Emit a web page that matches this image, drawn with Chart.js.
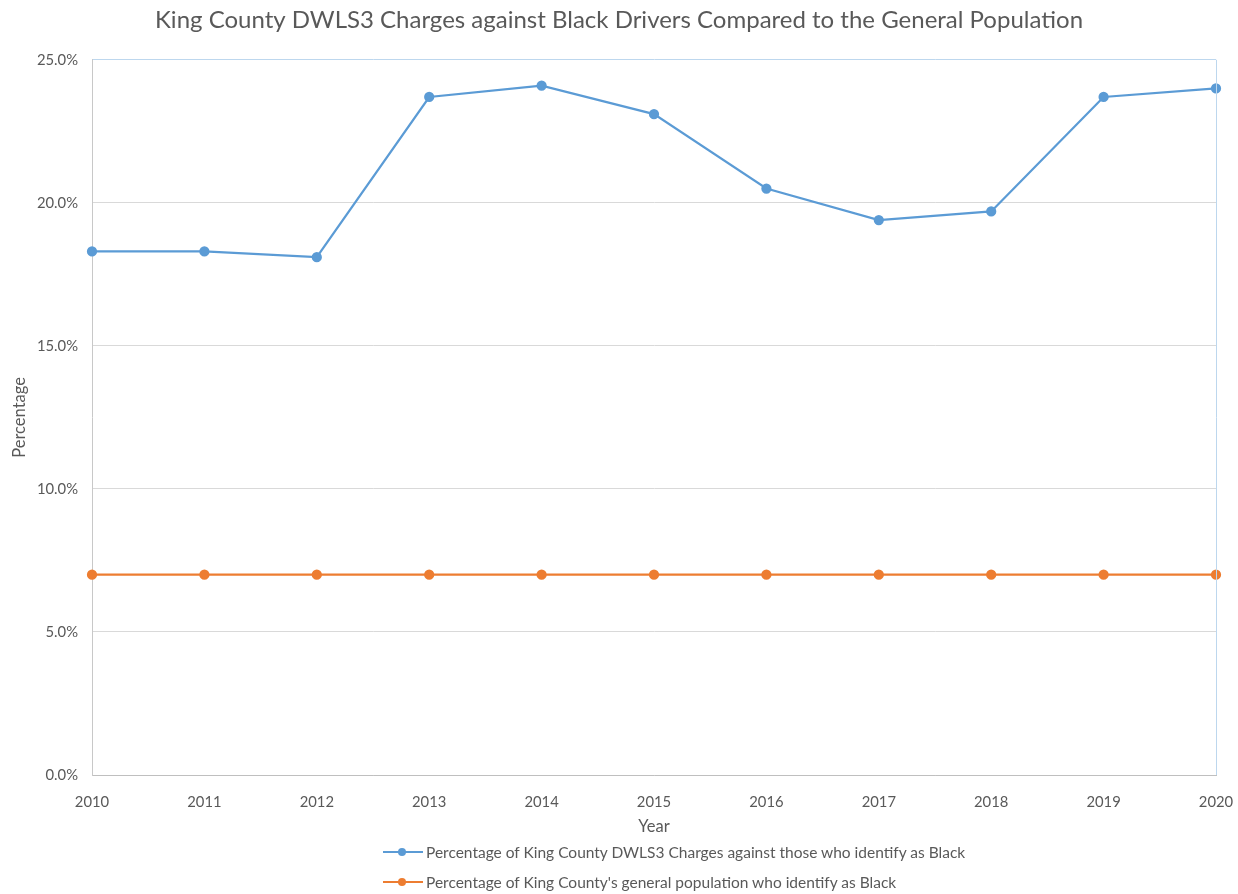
<!DOCTYPE html>
<html>
<head>
<meta charset="utf-8">
<script src="https://cdn.jsdelivr.net/npm/chart.js@4/dist/chart.umd.min.js"></script>
<style>
  html, body { margin: 0; padding: 0; background: #fff; }
  #wrap { position: relative; width: 1238px; height: 894px; }
  #legend { position: absolute; left: 383px; top: 840px; font-family: Lato, "Open Sans", sans-serif; font-size: 15.5px; color: #595959; }
  .item { position: relative; height: 30px; line-height: 24px; padding-left: 43px; white-space: nowrap; }
  .item .ln { position: absolute; left: 0; top: 11px; width: 40px; height: 2px; }
  .item .dt { position: absolute; left: 15px; top: 8px; width: 8px; height: 8px; border-radius: 50%; }
</style>
</head>
<body>
<div id="wrap">
  <canvas id="c" width="1238" height="894"></canvas>
  <div id="legend"></div>
</div>
<script>
const years = ["2010","2011","2012","2013","2014","2015","2016","2017","2018","2019","2020"];
const chargesBlack = [18.3, 18.3, 18.1, 23.7, 24.1, 23.1, 20.5, 19.4, 19.7, 23.7, 24.0];
const populationBlack = [7.0, 7.0, 7.0, 7.0, 7.0, 7.0, 7.0, 7.0, 7.0, 7.0, 7.0];
const seriesNames = [
  "Percentage of King County DWLS3 Charges against those who identify as Black",
  "Percentage of King County's general population who identify as Black"
];
const seriesColors = ["#5b9bd5", "#ed7d31"];
const titleText = "King County DWLS3 Charges against Black Drivers Compared to the General Population";

const FONT = "Lato, 'Open Sans', sans-serif";
const TXT = "#595959";

const frame = {
  id: 'frame',
  afterDraw(chart) {
    const {ctx, chartArea: a} = chart;
    ctx.save();
    ctx.strokeStyle = '#bdd7ee';
    ctx.lineWidth = 1;
    ctx.beginPath();
    ctx.moveTo(a.right + 0.5, a.top);
    ctx.lineTo(a.right + 0.5, a.bottom);
    ctx.stroke();
    ctx.restore();
  }
};

new Chart(document.getElementById('c'), {
  type: 'line',
  data: {
    labels: years,
    datasets: [
      { label: seriesNames[0], data: chargesBlack, borderColor: seriesColors[0], backgroundColor: seriesColors[0],
        borderWidth: 2.25, pointRadius: 4, pointHoverRadius: 4, tension: 0 },
      { label: seriesNames[1], data: populationBlack, borderColor: seriesColors[1], backgroundColor: seriesColors[1],
        borderWidth: 2.25, pointRadius: 4, pointHoverRadius: 4, tension: 0 }
    ]
  },
  options: {
    responsive: false,
    animation: false,
    layout: { padding: { left: 0, right: 0, top: 0, bottom: 59 } },
    plugins: {
      legend: { display: false },
      tooltip: { enabled: false },
      title: { display: true, text: titleText, color: TXT,
        font: { family: FONT, size: 24, weight: 'normal' }, padding: { top: 6, bottom: 25 } }
    },
    scales: {
      x: {
        offset: false,
        grid: { display: false },
        border: { display: true, color: '#bfbfbf', width: 1 },
        ticks: { color: TXT, font: { family: FONT, size: 14.8 }, padding: 10, maxRotation: 0 },
        title: { display: true, text: 'Year', color: TXT, font: { family: FONT, size: 16.5 }, padding: { top: 0, bottom: -2 } },
        afterFit(scale) { scale.height = 60; scale.paddingLeft = 0; scale.paddingRight = 22; }
      },
      y: {
        min: 0, max: 25,
        ticks: { stepSize: 5, color: TXT, font: { family: FONT, size: 14.8 }, padding: 14,
          callback: v => v.toFixed(1) + '%' },
        grid: { drawTicks: false, color: ctx => (ctx.tick && ctx.tick.value === 25) ? '#bdd7ee' : '#d9d9d9' },
        border: { display: true, color: '#c8c8c8', width: 1 },
        title: { display: true, text: 'Percentage', color: TXT, font: { family: FONT, size: 16.5 }, padding: { top: 10, bottom: 0 } },
        afterFit(scale) { scale.width = 92; }
      }
    }
  },
  plugins: [frame]
});

const lg = document.getElementById('legend');
seriesNames.forEach((n, i) => {
  const d = document.createElement('div');
  d.className = 'item';
  d.innerHTML = '<span class="ln" style="background:' + seriesColors[i] + '"></span><span class="dt" style="background:' + seriesColors[i] + '"></span>';
  d.appendChild(document.createTextNode(n));
  lg.appendChild(d);
});
</script>
</body>
</html>
